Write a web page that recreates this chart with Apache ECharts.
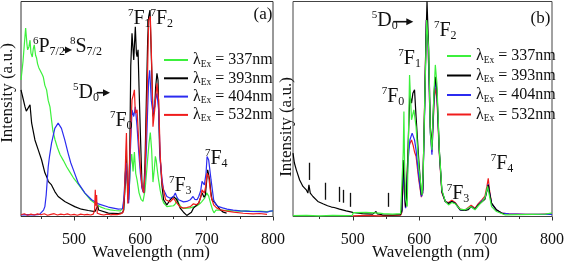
<!DOCTYPE html>
<html><head><meta charset="utf-8">
<script src="https://cdn.jsdelivr.net/npm/echarts@6/dist/echarts.min.js"></script>
<style>html,body{margin:0;padding:0;background:#fff}#c{width:567px;height:266px}</style>
</head><body><div id="c"></div><script>
const seriesNames = ['337nm', '393nm', '404nm', '532nm'];
const majorTicks = [500, 600, 700, 800];
const minorTicks = [450, 550, 650, 750];
const rangeA = [420, 800];
const rangeB = [410, 800];

const aGreen = [[420,63.5],[423,72],[425,80],[427,87.7],[429,80],[430,77.5],[432,79],[433.6,82],[435,76],[437,74.2],[438.5,78],[440,79.8],[442,75],[443.5,73.7],[445,71],[447,69.1],[450,69.6],[452,66],[453.6,64.9],[456,61],[458.6,58.9],[461,54],[463.7,51],[466,45],[468,40],[471.3,35.7],[475,32],[479,28.7],[484,26],[489,23],[494,20.5],[499,18],[504,16],[509.4,13.8],[516,11],[524.4,7.8],[532,6],[539.6,4.5],[547,3.6],[554.7,3.1],[562,2.8],[569.8,2.6],[574,4],[576,10],[578,25],[579,31],[580,20],[581,8],[583,12],[585,24],[587,29],[589,21],[591,30],[593,20],[595,17],[598,11],[601,8],[604,7],[607,12],[610,23],[613,34],[615,39],[617,31],[619,16],[621,22],[622.6,28],[624,26],[625,23],[627,18],[630,12],[633,8],[635,6.4],[640,4.6],[645,4.8],[650,5],[653,6],[655,8.7],[658,6],[662,4],[668,3.8],[675,4],[680,4.5],[685.5,5],[690,6],[693,7],[697,8.5],[700,11],[703,9.5],[706,6],[709,3],[711,1.7],[714,3],[720,3],[730,2.8],[740,2.6],[750,2.5],[760,2.6],[770,2.4],[780,2.5],[790,2.3],[800,2.6]];
const aBlack = [[420,58.9],[423,55],[426,51.1],[428,49],[431,48.2],[433.6,51.9],[436,43.5],[441,35.6],[446,31],[451,26.4],[456,20.3],[458,19],[460,17.5],[461,16.3],[466,14.7],[471,11.6],[476,9.3],[481,8.1],[486,7],[491,6.2],[501,4.6],[511,3.4],[521.5,2.8],[531.6,2.3],[534,2.5],[535.8,5],[537,3],[540,2.2],[551.7,1.6],[566.8,1.3],[572.8,1.7],[575,3],[577,15],[578.5,28],[580,18],[582.3,7.8],[584,30],[585.5,70],[587.4,85.2],[590,72.8],[592.4,88.3],[594,76],[595,74.3],[596.5,77.5],[598,60],[600,38.8],[602.5,14],[605,10.9],[607,25],[609,54.2],[611,82],[612.5,93],[614.5,96],[617,69.7],[619,46.5],[620.5,50],[621.6,51],[623,60],[625,66.6],[626.6,63.5],[629,31],[632.7,14],[635,7.8],[640,5.4],[645,7.8],[650,9.3],[655,7.8],[660,3.9],[665,2],[670,0.5],[673,0],[677,2],[680,3.9],[684,5],[688,6.2],[693,11],[696,9],[698,10],[701.5,21.7],[704.5,17],[706,12],[708,7.8],[713,6.2],[716,5],[720.6,3.1],[725,2],[730,1.6]];
const aBlue = [[420,0.8],[430,0.9],[440,0.8],[448,1],[451,1.6],[454,3],[456,4.6],[458,10],[461,23],[463,28],[466,34],[471,41],[476,43.4],[481,41],[486,35.6],[491,29.5],[495,25],[499,21.7],[506.4,15.5],[516.5,10.9],[526.5,7.8],[536.6,5.9],[551.7,4.4],[566.8,3.4],[573,3.6],[575,8],[577.3,20],[579,25],[580.5,15],[582.3,6.2],[584,18],[585,31],[587.4,49.6],[590,46.5],[592.4,51],[595,41.8],[597.5,30],[600,20],[602.5,13],[605,11],[607,18],[609,31],[611,50],[612.5,63.5],[614,68],[616.5,54],[619,48],[621.6,52.8],[625,57.3],[627.6,49.6],[630,26.3],[632.7,17],[635,12.4],[640,9.3],[645,8.5],[650,9.3],[652.7,10.9],[655,9],[657.7,7.8],[665,6.8],[670,7],[675.4,7.8],[679.4,9.3],[682,8],[685.5,7.8],[688,9.3],[691,12],[693,16.3],[696.5,14.7],[699,20],[700.6,27.9],[703,26.3],[706.6,17],[710.5,7.8],[714,5.5],[718,4.6],[724,4],[730.7,3.4],[740,3],[751,2.6],[765,2.4],[781,2.3],[791,2],[796,2.5],[798.6,3],[800,2.6]];
const aRed = [[420,0.8],[425,1.3],[430,0.6],[435,1.1],[440,0.7],[445,1.2],[450,0.8],[455,1.3],[460,0.6],[465,1],[470,1.3],[475,0.7],[480,1.1],[485,0.8],[490,1.2],[495,0.7],[500,1],[505,0.6],[510,1.1],[515,0.8],[520,1],[525,0.7],[529,1.1],[531,3],[532,12.4],[533,5],[534,10],[535,1.5],[540,1],[545,0.7],[550,1.1],[555,0.8],[560,1],[565,0.9],[570,1.2],[574,2],[576,10],[578,30],[579,38.8],[580,22],[581,6],[583,18],[585,35.6],[587.4,54.2],[590,57.3],[591,58.9],[592.4,48],[595,49.6],[597.5,35],[600,23],[602.5,14],[605,11],[607,20],[610,54],[612.5,91.4],[615,93],[617.6,65],[619,41.8],[621.6,49.6],[625,62],[627.6,54],[630,27.9],[632.7,15.5],[638,7.8],[645,6.8],[650,8.5],[655,6.2],[660,4.5],[665,3.9],[670,4.2],[675.4,4.6],[680,5.9],[684,5.5],[688,6.2],[691,9],[693,12.4],[696.5,10.9],[698.5,14],[700.6,20.1],[703,18.6],[706.6,9.3],[710.5,5.4],[715,4],[720.6,3.1],[730,2.5],[740.7,2],[755,1.5],[770,1.2],[780,1.4],[791,1]];

const bBlack = [[410,29.5],[412,25],[415,21.7],[420,17],[425,14],[430,12.4],[432.4,10.9],[434,14.7],[436,10.9],[440,9.3],[447.4,7],[455,5.9],[462,5],[468,4.4],[470,5],[472,4.2],[480,3.4],[490,2.6],[500,1.9],[514.6,1.3],[530,1.1],[533,1.3],[535,2.3],[537,1.2],[544.5,0.8],[560,0.7],[572,0.9],[574,3],[576,26.3],[578,15],[579.5,4.6],[581,10],[583.4,34],[586,56.6],[588.5,52.7],[590.5,57.3],[593,58.9],[595.3,46.5],[597,38],[599.4,26.3],[603.3,10],[605.4,12.4],[608.4,54],[610,80],[611.8,100],[614.3,77.5],[616.8,41.8],[619.2,32.5],[622.3,57.3],[624.3,65],[626.7,58.9],[630.3,31],[634.2,11.6],[639.3,7],[644.2,6],[649.2,7],[654.2,6.2],[661.7,3.1],[669.2,2.8],[674,3.2],[678.2,4.6],[684,3.4],[689,5.4],[695,7],[699,8],[702,12],[704,14.7],[706,11],[709,6.2],[716.4,3.1],[724,1.6],[728,1.2]];
const bGreen = [[410,0.4],[430,0.5],[450,0.3],[470,0.5],[490,0.4],[499,0.5],[501,1.8],[520,1.9],[540,1.6],[546,1.3],[560,1.1],[572,1.3],[574.4,1.6],[576,30],[577,48.8],[578,25],[579.5,7.8],[582,4.6],[584,40],[585.5,65.8],[587,55],[588.5,45],[592,49.6],[595.3,41.8],[599.4,23.2],[604.3,10],[606,20],[608.4,54],[611.3,91.4],[614.3,77.5],[616.8,38.8],[619.2,31],[621.8,54],[624.3,70.5],[626.7,62],[630.3,31],[634.2,12.4],[639.3,7],[644.2,5.4],[649.2,6.5],[654.2,5.9],[661.7,3.4],[669.2,3.1],[678.2,4.6],[684,3.1],[689,5],[695,7],[699,8.5],[703,14],[705,14],[709,4.6],[716.4,2.3],[729,0.8],[750,0.9],[770,1],[790,1.1],[798.8,1.6],[800,1.5]];
const bBlue = [[574,2],[576,23],[578,10],[579.5,3.9],[581,12],[583.4,26.3],[586,35.6],[589.4,38.8],[593,35.6],[595.3,31],[599.4,18.6],[603.3,9.3],[605.4,11],[608.4,51],[610.8,91.4],[613.3,82],[616.8,38.8],[619.2,28.7],[622.3,54],[624.3,63.5],[626.7,57.3],[630.3,30],[634.2,11.6],[639.3,7],[644.2,6],[649.2,7],[654.2,6.2],[661.7,3.1],[669.2,2.8],[678.2,4.6],[684,3.4],[689,5.4],[695,7.5],[699,8.5],[702,12],[704,15],[706,11],[709,6],[716.4,3],[724,1.6],[735,1.2],[760,1],[780,1],[800,1]];
const bRed = [[500,0.3],[520,0.5],[540,0.3],[560,0.5],[572,0.6],[574,2],[576,22],[578,9],[579.5,4],[581,12],[583.4,31],[586,34],[588.5,35.6],[591,33],[593,30],[595.3,28],[599.4,17],[603.3,9],[605.4,11],[608.4,56],[610.8,91.4],[613.3,80],[616.8,40],[619.2,30],[622.3,52],[624.3,60],[626.7,55],[630.3,29],[634.2,11],[639.3,7],[644.2,6.5],[649.2,7.5],[654.2,6.5],[661.7,3.4],[669.2,3],[678.2,5.2],[684,3.8],[689,6],[695,8],[699,9.5],[702,14],[704,17.8],[706,12],[709,6],[716.4,3],[724,1.6],[735,1.2],[760,1],[780,1],[800,1.2]];

// vertical marker bars in panel (b): wavelength, lower, upper intensity
const markerNm = [435, 459, 479, 485, 496, 554];
const markerLow = [17, 7.8, 6.8, 6.4, 4.5, 4.5];
const markerHigh = [25, 15.7, 13.8, 12.4, 11, 11];

const COLORS = {'337nm': '#3cf03c', '393nm': '#000000', '404nm': '#2b2bf0', '532nm': '#f01c1c'};
const FONT = "'Liberation Serif', 'Times New Roman', 'DejaVu Serif', serif";

const chart = echarts.init(document.getElementById('c'));

function line(name, data, xi, yi, extra) {
  return Object.assign({
    type: 'line', name, data, xAxisIndex: xi, yAxisIndex: yi,
    symbol: 'none', showSymbol: false, animation: false, silent: true,
    lineStyle: {color: COLORS[name], width: 1.2}, itemStyle: {color: COLORS[name]}
  }, extra || {});
}

function xAxes(gi, range) {
  return [
    {type: 'value', gridIndex: gi, min: range[0], max: range[1], position: 'bottom',
     axisLine: {show: false}, splitLine: {show: false},
     axisTick: {show: true, length: 4, customValues: majorTicks, lineStyle: {color: '#333', width: 1}},
     axisLabel: {customValues: majorTicks, margin: 15, fontFamily: FONT, fontSize: 16, color: '#111'}},
    {type: 'value', gridIndex: gi, min: range[0], max: range[1], position: 'bottom',
     axisLine: {show: false}, splitLine: {show: false},
     axisTick: {show: true, length: 2.5, customValues: minorTicks, lineStyle: {color: '#333', width: 1}},
     axisLabel: {show: false}}
  ];
}
function yAx(gi) {
  return {type: 'value', gridIndex: gi, min: 0, max: 100, axisLine: {show: false},
    axisTick: {show: false}, axisLabel: {show: false}, splitLine: {show: false}};
}

const legendRich = {
  l: {fontFamily: FONT, fontSize: 16, lineHeight: 18, color: '#111'},
  s: {fontFamily: FONT, fontSize: 9.5, lineHeight: 8, verticalAlign: 'bottom', color: '#111'}
};
function legendAt(left, top, gap) {
  return {data: seriesNames, left, top, orient: 'vertical', icon: 'rect', itemWidth: 24, itemHeight: 2,
    itemGap: gap, selectedMode: false, padding: 0,
    formatter: n => '{l|λ}{s|Ex}{l| = ' + n + '}', textStyle: {fontFamily: FONT, rich: legendRich}};
}

const fRich = {
  sup: {fontFamily: FONT, fontSize: 11, lineHeight: 11, verticalAlign: 'top', fill: '#111'},
  b: {fontFamily: FONT, fontSize: 20, lineHeight: 22, fill: '#111'},
  sub: {fontFamily: FONT, fontSize: 12, lineHeight: 10, verticalAlign: 'bottom', fill: '#111'}
};
function level(x, y, sup, base, sub) {
  return {type: 'text', x, y, z: 100, silent: true, style: {
    text: '{sup|' + sup + '}{b|' + base + '}' + (sub ? '{sub|' + sub + '}' : ''),
    fontFamily: FONT, rich: fRich, align: 'left', verticalAlign: 'top'}};
}
function arrow(x1, x2, y) {
  return {type: 'group', z: 100, silent: true, children: [
    {type: 'line', z: 100, shape: {x1, y1: y, x2: x2 - 5, y2: y}, style: {stroke: '#111', lineWidth: 1.6}},
    {type: 'polygon', z: 100, shape: {points: [[x2, y], [x2 - 7, y - 3.5], [x2 - 7, y + 3.5]]}, style: {fill: '#111'}}
  ]};
}
function plain(x, y, text, size, rot) {
  return {type: 'text', x, y, z: 100, rotation: rot || 0, silent: true, style: {
    text, fontFamily: FONT, fontSize: size, fill: '#111', align: 'center', verticalAlign: 'middle'}};
}

const markData = markerNm.map((nm, i) => [{coord: [nm, markerLow[i]]}, {coord: [nm, markerHigh[i]]}]);

const option = {
  animation: false,
  backgroundColor: '#fff',
  textStyle: {fontFamily: FONT},
  grid: [
    {left: 21, top: 1.5, width: 252, height: 215, show: true, borderColor: '#333', borderWidth: 1, backgroundColor: 'transparent'},
    {left: 293, top: 1.5, width: 261, height: 215, show: true, borderColor: '#444', borderWidth: 1, backgroundColor: 'transparent'}
  ],
  xAxis: [...xAxes(0, rangeA), ...xAxes(1, rangeB)],
  yAxis: [yAx(0), yAx(1)],
  legend: [legendAt(164, 52, 1.3), legendAt(447, 48, 2.5)],
  series: [
    line('337nm', aGreen, 0, 0),
    line('393nm', aBlack, 0, 0),
    line('404nm', aBlue, 0, 0),
    line('532nm', aRed, 0, 0),
    line('532nm', bRed, 2, 1),
    line('404nm', bBlue, 2, 1),
    line('393nm', bBlack, 2, 1, {markLine: {silent: true, symbol: ['none', 'none'], label: {show: false},
      lineStyle: {color: '#111', width: 1.3, type: 'solid'}, data: markData, animation: false}}),
    line('337nm', bGreen, 2, 1)
  ],
  graphic: [
    plain(8, 93, 'Intensity (a.u.)', 17, Math.PI / 2),
    plain(286.5, 127, 'Intensity (a.u.)', 17, Math.PI / 2),
    plain(151, 253, 'Wavelength (nm)', 17),
    plain(431, 253, 'Wavelength (nm)', 17),
    plain(263, 15, '(a)', 17),
    plain(540.5, 18.3, '(b)', 17),
    // panel a
    level(128, 7.7, '7', 'F', '1'),
    level(150.5, 7.7, '7', 'F', '2'),
    level(110, 109.4, '7', 'F', '0'),
    level(169, 174.4, '7', 'F', '3'),
    level(205, 147.7, '7', 'F', '4'),
    level(73, 81.7, '5', 'D', '0'),
    arrow(96.7, 110, 92.7),
    level(33, 36, '6', 'P', '7/2'),
    arrow(63.3, 72, 50),
    level(70, 36, '8', 'S', '7/2'),
    // panel b
    level(371.7, 9.4, '5', 'D', '0'),
    arrow(393.3, 413.3, 21.7),
    level(434, 19.4, '7', 'F', '2'),
    level(398.3, 47.7, '7', 'F', '1'),
    level(381.7, 86, '7', 'F', '0'),
    level(446.7, 182.7, '7', 'F', '3'),
    level(490.7, 152.7, '7', 'F', '4')
  ]
};
chart.setOption(option);
</script></body></html>
